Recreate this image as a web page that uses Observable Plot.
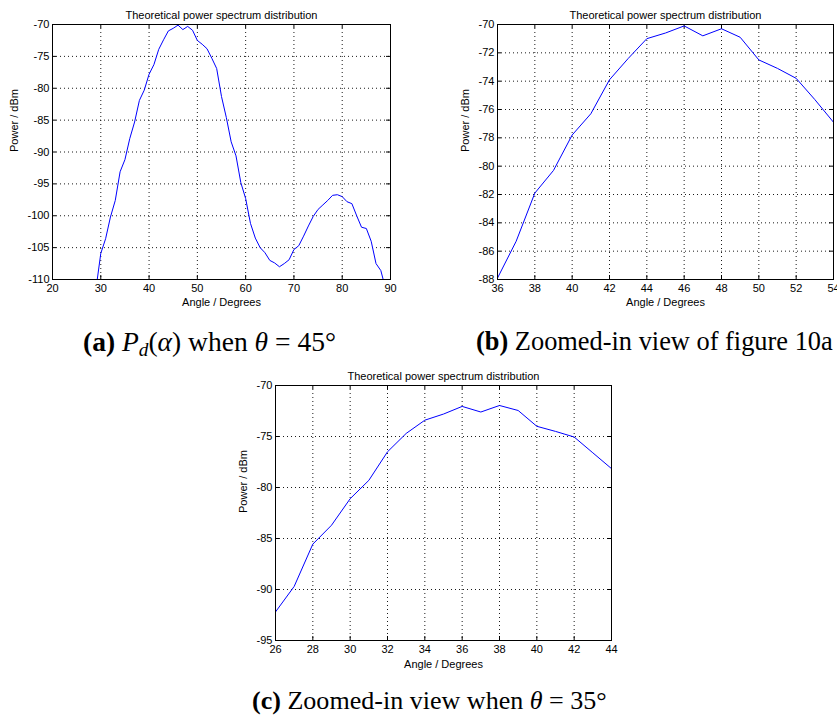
<!DOCTYPE html>
<html><head><meta charset="utf-8">
<script src="https://cdn.jsdelivr.net/npm/d3@7"></script>
<script src="https://cdn.jsdelivr.net/npm/@observablehq/plot@0.6"></script>
<style>
html,body{margin:0;padding:0;background:#fff;overflow:hidden;}
#root{position:relative;width:837px;height:718px;overflow:hidden;background:#fff;}
.panel{position:absolute;}
.panel svg{overflow:visible;}
.cap{position:absolute;font-family:"Liberation Serif","Times New Roman",serif;white-space:nowrap;color:#000;line-height:1;font-size:20px;}
.cap sub{font-size:70%;vertical-align:-0.25em;line-height:0;}
</style></head><body><div id="root"></div>
<script>
// ---- data ----
const anglesA = [29,30,31,32,33,34,35,36,37,38,39,40,41,42,43,44,45,46,47,48,49,50,51,52,53,54,55,56,57,58,59,60,61,62,63,64,65,66,67,68,69,70,71,72,73,74,75,76,77,78,79,80,81,82,83,84,85,86,87,88,89];
const powerA = [-111.5,-105.9,-103.6,-100.2,-97.6,-93.1,-91.2,-87.9,-85.3,-81.9,-80.3,-77.8,-76.3,-73.9,-72.4,-71.0,-70.6,-70.1,-70.8,-70.3,-70.9,-72.5,-73.1,-73.8,-75.3,-76.9,-81.3,-84.6,-88.4,-90.6,-94.8,-97.3,-101.2,-103.5,-105.0,-105.8,-107.0,-107.4,-108.0,-107.5,-106.9,-105.3,-104.7,-103.2,-101.6,-100.1,-99.0,-98.3,-97.6,-96.8,-96.7,-97.0,-97.8,-98.1,-100.0,-101.8,-102.0,-104.0,-107.5,-108.6,-111.5];
const anglesC = [26,27,28,29,30,31,32,33,34,35,36,37,38,39,40,41,42,43,44];
const powerC = [-92.2,-89.7,-85.55,-83.7,-81.1,-79.3,-76.5,-74.7,-73.4,-72.8,-72.05,-72.6,-71.96,-72.45,-74.0,-74.5,-75.05,-76.6,-78.15];

const xTicksA = [20,30,40,50,60,70,80,90];
const yTicksA = [-110,-105,-100,-95,-90,-85,-80,-75,-70];
const xTicksB = [36,38,40,42,44,46,48,50,52,54];
const yTicksB = [-88,-86,-84,-82,-80,-78,-76,-74,-72,-70];
const xTicksC = [26,28,30,32,34,36,38,40,42,44];
const yTicksC = [-95,-90,-85,-80,-75,-70];

const titleText = "Theoretical power spectrum distribution";
const xLabelText = "Angle / Degrees";
const yLabelText = "Power / dBm";

const dataA = anglesA.map((a,i)=>({angle:a, power:powerA[i]}));
const dataC = anglesC.map((a,i)=>({angle:a, power:powerC[i]}));

function panel({data, xDomain, yDomain, xTicks, yTicks, width, height, m, yLabelDx, titleDy, xLabelDy}) {
  const pw = width - m.left - m.right, ph = height - m.top - m.bottom;
  const t = 4;
  const fmt = d => String(d);
  return Plot.plot({
    width, height,
    marginTop: m.top, marginRight: m.right, marginBottom: m.bottom, marginLeft: m.left,
    x: {domain: xDomain}, y: {domain: yDomain},
    style: {fontFamily: '"Liberation Sans", Arial, sans-serif', fontSize: "11px", background: "white", color: "#000"},
    marks: [
      Plot.gridX(xTicks, {stroke: "#000", strokeOpacity: 0.9, strokeDasharray: "1,3"}),
      Plot.gridY(yTicks, {stroke: "#000", strokeOpacity: 0.9, strokeDasharray: "1,3"}),
      Plot.ruleX(xTicks, {x: d=>d, insetTop: ph - t, stroke: "#000"}),
      Plot.ruleX(xTicks, {x: d=>d, insetBottom: ph - t, stroke: "#000"}),
      Plot.ruleY(yTicks, {y: d=>d, insetRight: pw - t, stroke: "#000"}),
      Plot.ruleY(yTicks, {y: d=>d, insetLeft: pw - t, stroke: "#000"}),
      Plot.line(data, {x: "angle", y: "power", stroke: "#0000ff", strokeWidth: 1, clip: true}),
      Plot.frame({stroke: "#000"}),
      Plot.axisX({ticks: xTicks, tickSize: 0, tickPadding: 5, tickFormat: fmt, label: null, fontSize: 11}),
      Plot.axisY({ticks: yTicks, tickSize: 0, tickPadding: 3, tickFormat: fmt, label: null, fontSize: 11}),
      Plot.text([titleText], {text: d=>d, frameAnchor: "top", dy: titleDy, fontSize: 11}),
      Plot.text([xLabelText], {text: d=>d, frameAnchor: "bottom", dy: xLabelDy, fontSize: 11}),
      Plot.text([yLabelText], {text: d=>d, frameAnchor: "left", dx: yLabelDx, rotate: -90, fontSize: 11})
    ]
  });
}

const root = document.getElementById("root");
function place(el, left, top) {
  const d = document.createElement("div");
  d.className = "panel"; d.style.left = left + "px"; d.style.top = top + "px";
  d.appendChild(el); root.appendChild(d);
}

place(panel({data: dataA, xDomain: [20,90], yDomain: [-110,-70], xTicks: xTicksA, yTicks: yTicksA,
  width: 400, height: 318, m: {top: 24, left: 52, right: 10, bottom: 39}, yLabelDx: -38, titleDy: -13, xLabelDy: 26}), 0, 0);
place(panel({data: dataA, xDomain: [36,54], yDomain: [-88,-70], xTicks: xTicksB, yTicks: yTicksB,
  width: 397, height: 318, m: {top: 24, left: 57, right: 4, bottom: 39}, yLabelDx: -32, titleDy: -13, xLabelDy: 26}), 440, 0);
place(panel({data: dataC, xDomain: [26,44], yDomain: [-95,-70], xTicks: xTicksC, yTicks: yTicksC,
  width: 400, height: 320, m: {top: 25, left: 55, right: 9, bottom: 40}, yLabelDx: -32, titleDy: -13, xLabelDy: 27}), 220, 360);

// ---- captions ----
function caption(html, left, centerY, targetWidth) {
  const d = document.createElement("div");
  d.className = "cap"; d.innerHTML = html; d.style.left = left + "px";
  root.appendChild(d);
  const w = d.getBoundingClientRect().width;
  const fs = 20 * targetWidth / w;
  d.style.fontSize = fs + "px";
  d.style.top = (centerY - fs * 0.55) + "px";
  return fs;
}
caption('<b>(a)</b> <i>P</i><sub><i>d</i></sub>(<i>α</i>) when <i>θ</i> = 45°', 83, 343, 253);
caption('<b>(b)</b> Zoomed-in view of figure 10a', 476, 343, 357);
caption('<b>(c)</b> Zoomed-in view when <i>θ</i> = 35°', 252, 702, 355);
</script></body></html>
